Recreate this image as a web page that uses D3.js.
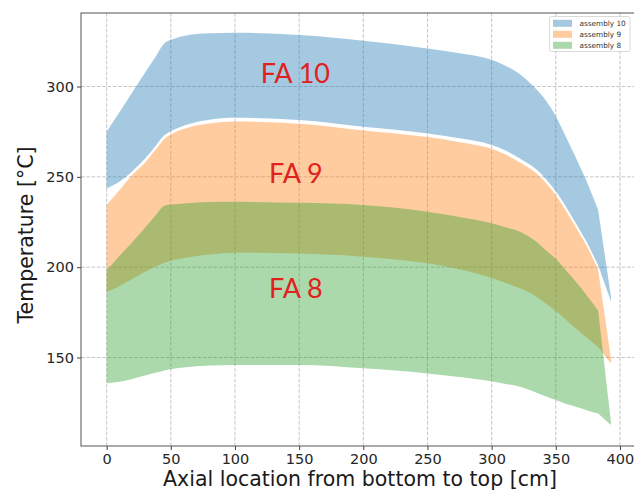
<!DOCTYPE html>
<html>
<head>
<meta charset="utf-8">
<script src="https://cdn.jsdelivr.net/npm/d3@7"></script>
<style>
  html, body { margin: 0; padding: 0; background: #fff; }
  svg { display: block; }
</style>
</head>
<body>
<svg id="chart" width="634" height="491"></svg>
<script>
// Axial positions (cm) shared by all assemblies
const axial = [0, 8, 15, 22, 30, 38, 45, 52, 60, 80, 100, 150, 200, 250, 275, 300, 310, 322, 335, 342, 350, 357, 365, 374, 383, 393];

// Temperature envelopes (°C): upper and lower bounds per fuel assembly
const fa10Upper = [275, 283.7, 291.3, 299, 307.7, 316.4, 324, 326.3, 328, 329.5, 329.8, 328.5, 325.4, 321.1, 318.4, 314.8, 311.8, 306.8, 298.3, 292.5, 283.5, 273.5, 261.5, 247.5, 231.6, 183.6];
const fa10Lower = [243.6, 246.5, 250, 254.5, 260.2, 267, 273, 276, 278.3, 281.6, 282.7, 281.4, 277.7, 274, 271.3, 267.6, 264.8, 260.2, 254, 249, 242, 234.5, 225, 214, 201, 181];
const fa9Upper  = [234.4, 241, 247, 252.5, 258, 265, 271, 274.3, 276.5, 279.5, 280.6, 279.4, 275.7, 272, 269.2, 265.5, 262.6, 258, 251.8, 246.8, 239.8, 232.3, 222.8, 211.8, 198.5, 149];
const fa9Lower  = [186.4, 188.8, 191.5, 194.3, 197.5, 200.3, 202.5, 204, 205, 207, 208, 207.6, 205.8, 202.1, 198.8, 194, 191.5, 188.3, 183.6, 180, 175.8, 171.5, 166.5, 161, 155.7, 146.7];
const fa8Upper  = [198.4, 204.7, 210, 215.5, 222, 228.5, 234, 234.8, 235.3, 236.1, 236.2, 235.6, 234.4, 230.7, 227.8, 224.3, 222.2, 219.6, 214, 209.5, 204.6, 199, 192.5, 184.5, 176, 114];
const fa8Lower  = [135.7, 136.4, 137.3, 138.5, 140, 141.5, 142.8, 143.8, 144.5, 145.5, 145.8, 145.8, 144, 141.2, 139.2, 136.8, 135.5, 133.8, 130.5, 128.5, 126.4, 124.5, 122.8, 120.8, 119, 112.6];

const seriesNames = ["assembly 10", "assembly 9", "assembly 8"];
const seriesColors = ["#1f77b4", "#ff7f0e", "#2ca02c"];

const xTicks = [0, 50, 100, 150, 200, 250, 300, 350, 400];
const yTicks = [150, 200, 250, 300];

// In-plot annotations (data coordinates)
const annoText = ["FA 10", "FA 9", "FA 8"];
const annoX = [147, 147.5, 147.5];
const annoY = [302, 246.6, 182.7];

const bands = [
  { name: seriesNames[0], color: seriesColors[0], upper: fa10Upper, lower: fa10Lower },
  { name: seriesNames[1], color: seriesColors[1], upper: fa9Upper,  lower: fa9Lower },
  { name: seriesNames[2], color: seriesColors[2], upper: fa8Upper,  lower: fa8Lower }
];

const svg = d3.select("#chart");
const plot = { left: 81, top: 13, right: 636, bottom: 446 };

const x = d3.scaleLinear().domain([-20, 412.5]).range([plot.left, plot.right]);
const y = d3.scaleLinear().domain([101, 340.7]).range([plot.bottom, plot.top]);

svg.append("defs").append("clipPath").attr("id", "plotclip")
  .append("rect")
  .attr("x", plot.left).attr("y", plot.top)
  .attr("width", plot.right - plot.left).attr("height", plot.bottom - plot.top);

// grid
const grid = svg.append("g").attr("stroke", "#b8b8b8").attr("stroke-width", 0.8)
  .attr("stroke-dasharray", "3.7,1.6");
grid.selectAll("line.v").data(xTicks).join("line")
  .attr("x1", d => x(d)).attr("x2", d => x(d))
  .attr("y1", plot.top).attr("y2", plot.bottom);
grid.selectAll("line.h").data(yTicks).join("line")
  .attr("x1", plot.left).attr("x2", plot.right)
  .attr("y1", d => y(d)).attr("y2", d => y(d));

// filled envelopes: smooth along the core, straight final segment into the tip
const smooth = d3.line().curve(d3.curveMonotoneX);
function bandPath(b) {
  const n = axial.length;
  const up = axial.slice(0, n - 1).map((a, i) => [x(a), y(b.upper[i])]);
  const lo = axial.slice(0, n - 1).map((a, i) => [x(a), y(b.lower[i])]).reverse();
  const xe = x(axial[n - 1]);
  return smooth(up)
    + `L${xe},${y(b.upper[n - 1])}L${xe},${y(b.lower[n - 1])}`
    + "L" + smooth(lo).slice(1) + "Z";
}

svg.append("g").attr("clip-path", "url(#plotclip)")
  .selectAll("path").data(bands).join("path")
  .attr("d", bandPath)
  .attr("fill", b => b.color)
  .attr("fill-opacity", 0.4)
  .attr("stroke", "none");

// frame
svg.append("rect")
  .attr("x", plot.left).attr("y", plot.top)
  .attr("width", plot.right - plot.left).attr("height", plot.bottom - plot.top)
  .attr("fill", "none").attr("stroke", "#555").attr("stroke-width", 1);

// axes
const xAxis = svg.append("g").attr("transform", `translate(0,${plot.bottom})`)
  .call(d3.axisBottom(x).tickValues(xTicks).tickSize(4).tickPadding(4).tickFormat(d3.format("d")));
const yAxis = svg.append("g").attr("transform", `translate(${plot.left},0)`)
  .call(d3.axisLeft(y).tickValues(yTicks).tickSize(4).tickPadding(3).tickFormat(d3.format("d")));
[xAxis, yAxis].forEach(a => {
  a.select(".domain").remove();
  a.selectAll(".tick line").attr("stroke", "#444");
  a.selectAll(".tick text")
    .attr("font-family", "DejaVu Sans, sans-serif")
    .attr("font-size", 14.5)
    .attr("fill", "#262626");
});

// axis titles
svg.append("text")
  .attr("x", 360).attr("y", 486)
  .attr("text-anchor", "middle")
  .attr("font-family", "DejaVu Sans, sans-serif")
  .attr("font-size", 20.5)
  .attr("fill", "#1a1a1a")
  .text("Axial location from bottom to top [cm]");

svg.append("text")
  .attr("transform", "translate(33,235) rotate(-90)")
  .attr("text-anchor", "middle")
  .attr("font-family", "DejaVu Sans, sans-serif")
  .attr("font-size", 20.5)
  .attr("fill", "#1a1a1a")
  .text("Temperature [°C]");

// annotations
svg.append("g").selectAll("text").data(annoText).join("text")
  .attr("x", (d, i) => x(annoX[i]))
  .attr("y", (d, i) => y(annoY[i]))
  .attr("text-anchor", "middle")
  .attr("font-family", "Lato, 'Open Sans', sans-serif")
  .attr("font-size", 27)
  .attr("fill", "#e0221e")
  .text(d => d);

// legend
const lg = svg.append("g").attr("transform", "translate(549.5,16.5)");
lg.append("rect")
  .attr("width", 80.5).attr("height", 35).attr("rx", 2)
  .attr("fill", "#fff").attr("fill-opacity", 0.8)
  .attr("stroke", "#d0d0d0").attr("stroke-width", 0.8);
const items = lg.selectAll("g.item").data(bands).join("g")
  .attr("transform", (d, i) => `translate(3.5,${3.3 + i * 11})`);
items.append("rect")
  .attr("width", 19).attr("height", 7)
  .attr("fill", d => d.color).attr("fill-opacity", 0.4);
items.append("text")
  .attr("x", 26.5).attr("y", 6.5)
  .attr("font-family", "DejaVu Sans, sans-serif")
  .attr("font-size", 7.3)
  .attr("fill", "#333")
  .text(d => d.name);
</script>
</body>
</html>
